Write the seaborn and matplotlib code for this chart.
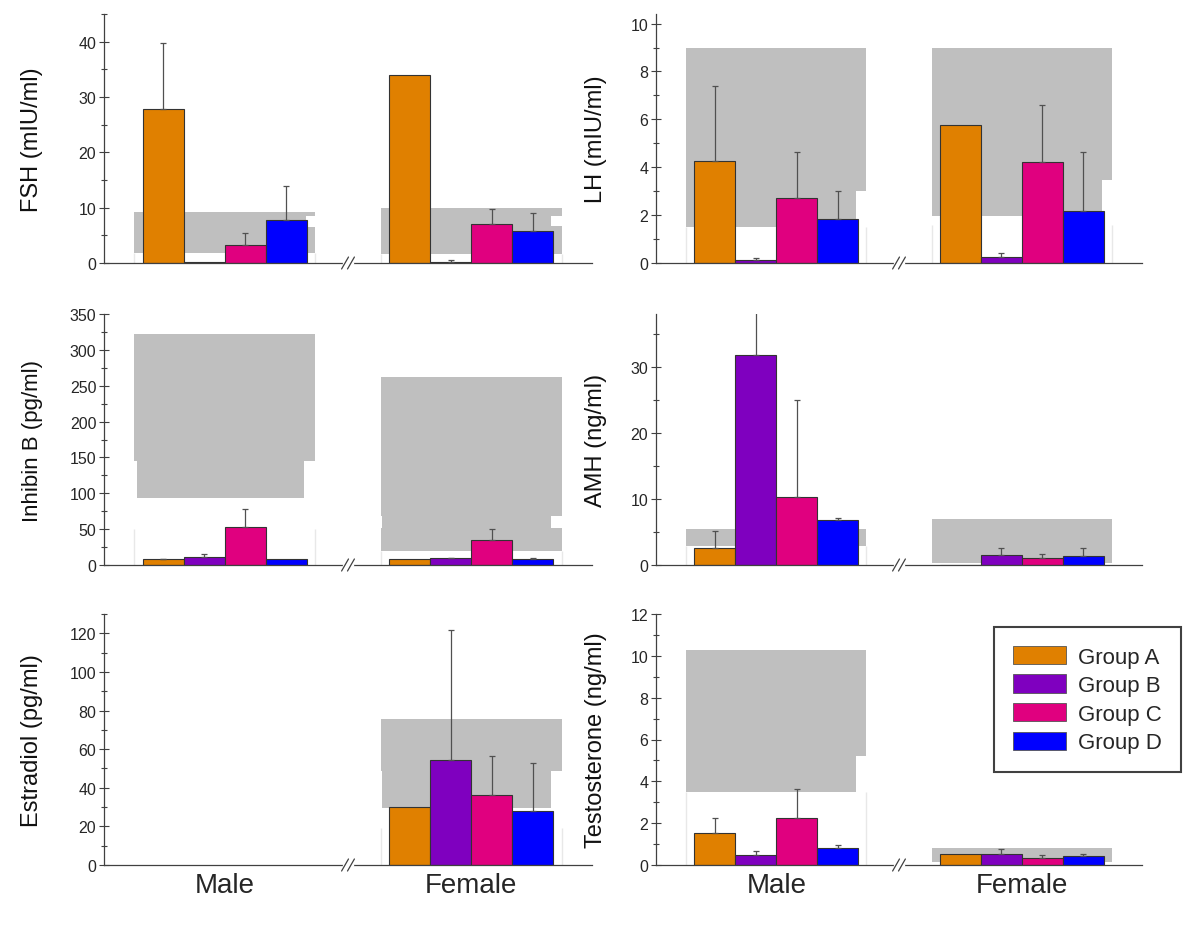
import numpy as np
import pandas as pd
import matplotlib
matplotlib.use('Agg')
import matplotlib.pyplot as plt
from matplotlib.patches import Patch, Rectangle
from matplotlib.ticker import MultipleLocator
import seaborn as sns

nan = np.nan

sexes = ['Male', 'Female']
groups = ['Group A', 'Group B', 'Group C', 'Group D']
colors = ['#E08000', '#7F00BF', '#E0007F', '#0000FF']

#mean values (male, female) and top of the error bar
fsh_male = [27.8, 0.15, 3.3, 7.8]
fsh_male_top = [39.8, nan, 5.5, 14.0]
fsh_female = [33.9, 0.25, 7.0, 5.7]
fsh_female_top = [nan, 0.5, 9.7, 9.1]

lh_male = [4.26, 0.14, 2.73, 1.84]
lh_male_top = [7.4, 0.2, 4.64, 3.0]
lh_female = [5.78, 0.24, 4.2, 2.16]
lh_female_top = [nan, 0.4, 6.6, 4.64]

inh_male = [8.3, 11.0, 52.8, 7.9]
inh_male_top = [9.0, 15.8, 77.9, nan]
inh_female = [8.3, 9.3, 35.2, 7.9]
inh_female_top = [nan, 9.7, 50.5, 9.7]

amh_male = [2.6, 31.8, 10.3, 6.8]
amh_male_top = [5.2, 40.0, 25.0, 7.1]
amh_female = [0.05, 1.5, 1.1, 1.3]
amh_female_top = [nan, 2.5, 1.7, 2.6]

e2_male = [nan, nan, nan, nan]
e2_male_top = [nan, nan, nan, nan]
e2_female = [30.0, 54.6, 36.4, 28.2]
e2_female_top = [nan, 121.5, 56.2, 52.9]

t_male = [1.52, 0.5, 2.24, 0.81]
t_male_top = [2.25, 0.69, 3.63, 0.96]
t_female = [0.54, 0.51, 0.34, 0.43]
t_female_top = [nan, 0.78, 0.46, 0.54]

#reference ranges behind the bars: (low, high, from slot, to slot), 4 bar slots per sex
fsh_ref = [[(1.87, 9.2, -0.2, 3.98), (8.5, 9.2, 3.98, 4.2), (1.87, 6.5, 3.98, 4.2)],
           [(1.7, 10.0, -0.2, 3.95), (8.5, 10.0, 3.95, 4.2), (1.7, 6.6, 3.95, 4.2)]]
lh_ref = [[(1.5, 9.0, -0.2, 3.95), (3.0, 9.0, 3.95, 4.2)],
          [(1.95, 9.0, -0.2, 3.95), (3.45, 9.0, 3.95, 4.2)]]
inh_ref = [[(145, 322, -0.2, 4.2), (93, 145, -0.14, 3.92)],
           [(69, 261.5, -0.2, 4.2), (20, 52, -0.2, 4.2), (52, 69, -0.17, 3.95)]]
amh_ref = [[(2.9, 5.5, -0.2, 4.2)],
           [(0.25, 7.0, -0.2, 4.2)]]
e2_ref = [[],
          [(48.7, 75.4, -0.2, 4.2), (29.3, 48.7, -0.17, 3.95)]]
t_ref = [[(3.5, 10.3, -0.2, 3.95), (5.22, 10.3, 3.95, 4.2)],
         [(0.14, 0.8, -0.2, 4.2)]]

#faint outline under the gray ranges (upper end), one per sex
fsh_low = [1.87, 1.7]
lh_low = [1.5, 1.57]
inh_low = [50, 20]
amh_low = [2.9, nan]
e2_low = [nan, 19]
t_low = [3.5, nan]

panels = {
    'FSH': dict(label='FSH (mIU/ml)', male=fsh_male, male_top=fsh_male_top, female=fsh_female,
                female_top=fsh_female_top, ref=fsh_ref, low=fsh_low, ymax=45, step=10, lsize=17),
    'LH': dict(label='LH (mIU/ml)', male=lh_male, male_top=lh_male_top, female=lh_female,
               female_top=lh_female_top, ref=lh_ref, low=lh_low, ymax=10.4, step=2, lsize=17),
    'InhB': dict(label='Inhibin B (pg/ml)', male=inh_male, male_top=inh_male_top, female=inh_female,
                 female_top=inh_female_top, ref=inh_ref, low=inh_low, ymax=350, step=50, lsize=16),
    'AMH': dict(label='AMH (ng/ml)', male=amh_male, male_top=amh_male_top, female=amh_female,
                female_top=amh_female_top, ref=amh_ref, low=amh_low, ymax=38, step=10, lsize=17),
    'E2': dict(label='Estradiol (pg/ml)', male=e2_male, male_top=e2_male_top, female=e2_female,
               female_top=e2_female_top, ref=e2_ref, low=e2_low, ymax=130, step=20, lsize=17),
    'T': dict(label='Testosterone (ng/ml)', male=t_male, male_top=t_male_top, female=t_female,
              female_top=t_female_top, ref=t_ref, low=t_low, ymax=12, step=2, lsize=17),
}

rows = []
for key, p in panels.items():
    for sex, vals, tops in [('Male', p['male'], p['male_top']), ('Female', p['female'], p['female_top'])]:
        for g, v, t in zip(groups, vals, tops):
            rows.append(dict(hormone=key, sex=sex, group=g, value=v, top=t))
df = pd.DataFrame(rows)

sns.set_style('white')
plt.rcParams['font.family'] = ['Liberation Sans', 'DejaVu Sans']

fig = plt.figure(figsize=(12, 9.28), dpi=100)

W, H = 1200, 928
col_x = [(104, 488), (656, 486)]
row_y = [(15, 264), (315, 566), (615, 866)]
layout = [['FSH', 'LH'], ['InhB', 'AMH'], ['E2', 'T']]

BAR_W = 2 / 3
slot = BAR_W / 4
axis_col = '#404040'

for r, keys in enumerate(layout):
    for c, key in enumerate(keys):
        p = panels[key]
        x0, w = col_x[c]
        top, bottom = row_y[r]
        ax = fig.add_axes([x0 / W, 1 - bottom / H, w / W, (bottom - top) / H])

        #reference ranges
        for si in range(2):
            left = si - BAR_W / 2
            if not np.isnan(p['low'][si]):
                ax.vlines([left - 0.2 * slot, left + 4.2 * slot], 0, p['low'][si],
                          color='#e8e8e8', lw=1, zorder=0)
            for lo, hi, s0, s1 in p['ref'][si]:
                ax.add_patch(Rectangle((left + s0 * slot, lo), (s1 - s0) * slot, hi - lo,
                                       facecolor='#BFBFBF', edgecolor='none', zorder=0.5))

        sub = df[df.hormone == key].dropna(subset=['value'])
        sns.barplot(data=sub, x='sex', y='value', hue='group', order=sexes, hue_order=groups,
                    palette=colors, saturation=1, width=BAR_W, errorbar=None,
                    edgecolor='#333333', linewidth=0.8, legend=False, ax=ax, zorder=2)

        #upper error bars
        bar_list = [b for cont in list(ax.containers) for b in cont]
        for b in bar_list:
            xc = b.get_x() + b.get_width() / 2
            si = int(round(xc))
            gi = int(round((xc - si) / slot + 1.5))
            row = sub[(sub.sex == sexes[si]) & (sub.group == groups[gi])]
            if len(row) == 0 or np.isnan(row.top.iloc[0]):
                continue
            v = row.value.iloc[0]
            ax.errorbar([xc], [v], yerr=[[0], [row.top.iloc[0] - v]], fmt='none',
                        ecolor='#505050', elinewidth=0.9, capsize=2.5, capthick=0.9, zorder=3)

        ax.set_xlim(-0.49, 1.49)
        ax.set_ylim(0, p['ymax'])
        ax.yaxis.set_major_locator(MultipleLocator(p['step']))
        ax.yaxis.set_minor_locator(MultipleLocator(p['step'] / 2))
        ax.tick_params(axis='y', which='major', direction='inout', length=7, width=0.8,
                       color=axis_col, labelsize=11.5, pad=2, left=True)
        ax.tick_params(axis='y', which='minor', direction='inout', length=4, width=0.8,
                       color=axis_col, left=True)
        ax.tick_params(axis='x', length=0, labelsize=20, pad=5)
        if r < 2:
            ax.tick_params(axis='x', labelbottom=False)
        for s in ['top', 'right']:
            ax.spines[s].set_visible(False)
        for s in ['left', 'bottom']:
            ax.spines[s].set_color(axis_col)
            ax.spines[s].set_linewidth(0.9)
        ax.set_xlabel('')
        ax.set_ylabel(p['label'], fontsize=p['lsize'], color='#111111')
        ax.yaxis.set_label_coords(-0.125 if c == 0 else -0.1, 0.5)

        #axis break marks
        tr = ax.get_xaxis_transform()
        ax.plot([0.485, 0.515], [0, 0], color='white', lw=2.5, transform=tr, clip_on=False, zorder=4)
        for dx in (-0.012, 0.012):
            ax.plot([0.5 + dx - 0.014, 0.5 + dx + 0.014], [-0.024, 0.024], color=axis_col,
                    lw=0.9, transform=tr, clip_on=False, zorder=5)

        if key == 'T':
            handles = [Patch(facecolor=col, edgecolor='#555555', lw=0.6, label=g)
                       for g, col in zip(groups, colors)]
            leg = ax.legend(handles=handles, loc='upper left', bbox_to_anchor=(994 / W, 1 - 628 / H),
                            bbox_transform=fig.transFigure, fontsize=16, frameon=True,
                            fancybox=False, handlelength=2.4, handleheight=0.9,
                            handletextpad=0.55, labelspacing=0.3, borderpad=0.85,
                            borderaxespad=0)
            leg.get_frame().set_edgecolor('#111111')
            leg.get_frame().set_linewidth(1.5)

fig.savefig('out.png', dpi=100)
